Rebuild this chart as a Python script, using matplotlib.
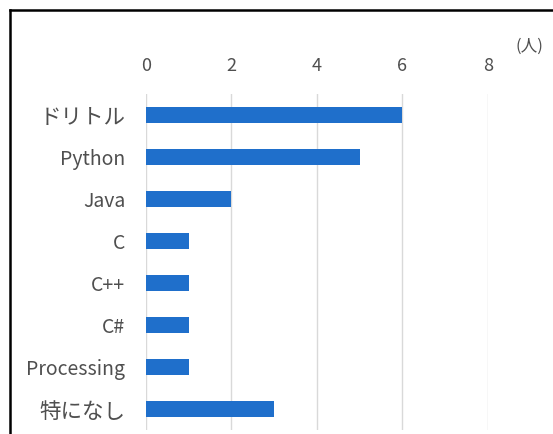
import matplotlib.pyplot as plt
from matplotlib.lines import Line2D

plt.rcParams['font.family'] = ['Noto Sans CJK JP', 'DejaVu Sans']

# 好きなプログラミング言語（人数）
languages = ['ドリトル', 'Python', 'Java', 'C', 'C++', 'C#', 'Processing', '特になし']
counts = [6, 5, 2, 1, 1, 1, 1, 3]
xticks = [0, 2, 4, 6, 8]

text_color = '#4f4f4f'
bar_color = '#1f6fcb'

fig = plt.figure(figsize=(5.53, 4.34), dpi=100)
ax = fig.add_axes([0.264, 0.009, 0.618, 0.774])

ypos = list(range(len(languages)))
ax.barh(ypos, counts, height=0.38, color=bar_color, zorder=3)
ax.set_ylim(len(languages) - 0.5, -0.5)
ax.set_xlim(0, 8)
ax.set_xticks(xticks)
ax.set_yticks(ypos)
ax.set_yticklabels(languages)

ax.xaxis.tick_top()
ax.tick_params(axis='x', length=0, pad=14, labelsize=13, labelcolor=text_color)
ax.tick_params(axis='y', length=0, pad=15, labelsize=14, labelcolor=text_color)
# 日本語のラベルは少し大きめ
for lbl in ax.get_yticklabels():
    if not lbl.get_text().isascii():
        lbl.set_fontsize(15.5)
ax.grid(axis='x', color='#d9d9d9', linewidth=1, zorder=0)
for s in ax.spines.values():
    s.set_visible(False)

fig.text(0.958, 0.893, '(人)', ha='center', va='center', fontsize=12, color=text_color)

# 外枠（上と左）
fig.add_artist(Line2D([0.018, 1.0], [0.977, 0.977], color='black', linewidth=1.8,
                      transform=fig.transFigure))
fig.add_artist(Line2D([0.018, 0.018], [0.0, 0.977], color='black', linewidth=1.8,
                      transform=fig.transFigure))

fig.savefig('out.png', dpi=100)
